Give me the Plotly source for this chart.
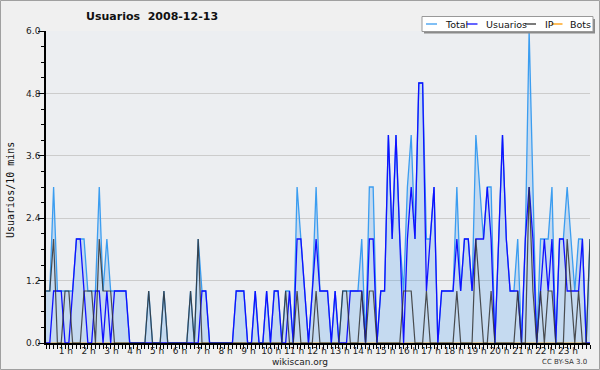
import plotly.graph_objects as go

# 10-minute slots, 0:00 .. 23:50
slots = list(range(144))
hour_labels = [f"{h} h" for h in range(1, 24)]
y_ticks = [0.0, 1.2, 2.4, 3.6, 4.8, 6.0]

total = [1,1,3,1,1,1,1,1,2,2,2,1,1,1,3,1,2,1,1,1,1,1,0,0,0,0,0,1,0,0,
         0,1,0,0,0,0,0,0,1,0,2,1,1,0,0,0,0,0,0,0,1,1,1,0,0,1,0,0,1,0,
         1,1,0,1,1,0,3,2,1,0,1,3,1,1,1,0,1,0,1,1,1,1,1,2,0,3,3,0,1,1,
         4,2,4,2,1,3,4,2,5,5,2,2,3,0,1,1,1,1,3,1,2,2,1,4,3,2,3,3,0,2,
         4,2,1,1,2,0,2,6,3,0,2,2,2,3,0,2,2,3,2,1,2,2,0,2]
usuarios = [0,0,1,1,1,0,0,1,2,2,1,0,0,1,1,0,1,0,1,1,1,1,0,0,0,0,0,0,0,0,
            0,0,0,0,0,0,0,0,0,0,0,1,1,0,0,0,0,0,0,0,1,1,1,0,0,1,0,0,1,0,
            1,1,0,0,1,0,2,2,1,0,1,2,1,1,1,0,1,0,0,0,1,1,1,1,0,2,2,0,1,1,
            4,2,4,2,0,2,3,2,5,5,1,2,3,0,1,1,1,1,2,1,2,2,1,2,2,2,3,2,0,2,
            4,2,1,1,1,0,2,3,2,0,1,2,1,2,0,2,2,1,1,1,1,2,0,0]
ip = [1,1,2,0,0,1,1,0,0,0,1,1,1,0,2,1,1,1,0,0,0,0,0,0,0,0,0,1,0,0,
      0,1,0,0,0,0,0,0,1,0,2,0,0,0,0,0,0,0,0,0,0,0,0,0,0,0,0,0,0,0,
      0,0,0,1,0,0,1,0,0,0,0,1,0,0,0,0,0,0,1,1,0,0,0,1,0,1,1,0,0,0,
      0,0,0,0,1,1,1,0,0,0,1,0,0,0,0,0,0,0,1,0,0,0,0,2,1,0,0,1,0,0,
      0,0,0,0,1,0,0,3,1,0,1,0,1,1,0,0,0,2,1,0,1,0,0,2]
bots = [0] * 144

C_TOTAL = "#3b9df0"
C_USU = "#1010ff"
C_IP = "#333333"
C_BOTS = "#ff9900"

fig = go.Figure()
fig.add_trace(go.Scatter(x=slots, y=bots, mode="lines", name="Bots",
                         line=dict(color=C_BOTS, width=1.2)))
fig.add_trace(go.Scatter(x=slots, y=total, mode="lines", name="Total",
                         line=dict(color=C_TOTAL, width=1.3),
                         fill="tozeroy", fillcolor="rgba(60,150,235,0.22)"))
fig.add_trace(go.Scatter(x=slots, y=usuarios, mode="lines", name="Usuarios",
                         line=dict(color=C_USU, width=1.3)))
fig.add_trace(go.Scatter(x=slots, y=ip, mode="lines", name="IP",
                         line=dict(color=C_IP, width=1.2), opacity=0.85))

L, R, T, B = 46, 10, 31, 27
W, H = 600, 370
PW, PH = W - L - R, H - T - B


def px(x):
    return (x - L) / PW


def py(y):
    return (H - B - y) / PH


fig.update_layout(
    width=W, height=H,
    margin=dict(l=L, r=R, t=T, b=B),
    paper_bgcolor="#f0f0f0",
    plot_bgcolor="#eceef1",
    showlegend=False,
    font=dict(family="DejaVu Sans", size=9, color="#222222"),
)
fig.update_xaxes(
    range=[0, 143], tickvals=[6 * h for h in range(1, 24)], ticktext=hour_labels,
    ticks="outside", ticklen=4, tickcolor="black", tickwidth=1,
    showline=True, linecolor="black", linewidth=1.5,
    showgrid=False, zeroline=False,
    minor=dict(dtick=1, tick0=0, ticks="outside", ticklen=4, tickcolor="black", showgrid=False),
    tickfont=dict(size=9, family="DejaVu Sans", color="#222222"),
    ticklabelstandoff=-6, ticklabelshift=-3,
)
fig.update_yaxes(
    range=[0, 6], tickvals=y_ticks, ticktext=[f"{v:.1f}" for v in y_ticks],
    ticks="outside", ticklen=6, tickcolor="black",
    showline=True, linecolor="black", linewidth=1.5,
    showgrid=True, gridcolor="#cccccc", gridwidth=1, zeroline=False,
    minor=dict(dtick=0.3, tick0=0, ticks="outside", ticklen=3, tickcolor="black", showgrid=False),
    tickfont=dict(size=9, family="DejaVu Sans", color="#222222"),
    ticklabelstandoff=-4,
)

ann = []
ann.append(dict(text="<b>Usuarios\u00a0\u00a02008-12-13</b>", x=px(84), y=py(17), xref="paper", yref="paper",
                xanchor="left", yanchor="middle", showarrow=False,
                font=dict(size=11, family="DejaVu Sans", color="#111111")))
ann.append(dict(text="Usuarios/10 mins", x=px(10), y=py(190), xref="paper", yref="paper",
                xanchor="center", yanchor="middle", textangle=-90, showarrow=False,
                font=dict(size=10, family="DejaVu Sans Mono", color="#111111")))
ann.append(dict(text="wikiscan.org", x=px(300), y=py(362), xref="paper", yref="paper",
                xanchor="center", yanchor="middle", showarrow=False,
                font=dict(size=9, family="DejaVu Sans", color="#222222")))
ann.append(dict(text="CC BY-SA 3.0", x=px(589), y=py(362), xref="paper", yref="paper",
                xanchor="right", yanchor="middle", showarrow=False,
                font=dict(size=7, family="DejaVu Sans", color="#333333")))

shapes = []
# outer border
shapes.append(dict(type="rect", xref="paper", yref="paper",
                   x0=px(0.5), x1=px(599.5), y0=py(369.5), y1=py(0.5),
                   line=dict(color="#a0a0a0", width=1), fillcolor="rgba(0,0,0,0)", layer="above"))
# legend box with shadow
shapes.append(dict(type="rect", xref="paper", yref="paper",
                   x0=px(424), x1=px(595), y0=py(33.5), y1=py(19),
                   line=dict(width=0), fillcolor="#8a8a8a", layer="above"))
shapes.append(dict(type="rect", xref="paper", yref="paper",
                   x0=px(422), x1=px(593), y0=py(31.5), y1=py(16.5),
                   line=dict(color="#999999", width=1), fillcolor="#ffffff", layer="above"))
legend_items = [("Total", C_TOTAL, 426, 442.5), ("Usuarios", C_USU, 466.5, 484),
                ("IP", C_IP, 525, 542.5), ("Bots", C_BOTS, 551.5, 568)]
for name, col, lx, tx in legend_items:
    shapes.append(dict(type="line", xref="paper", yref="paper",
                       x0=px(lx), x1=px(lx + 11), y0=py(24), y1=py(24),
                       line=dict(color=col, width=1.3), layer="above"))
    ann.append(dict(text=name, x=px(tx), y=py(24.3), xref="paper", yref="paper",
                    xanchor="left", yanchor="middle", showarrow=False,
                    font=dict(size=9.5, family="DejaVu Sans", color="#111111")))

fig.update_layout(annotations=ann, shapes=shapes)
fig.write_html("out.html", config={"displayModeBar": False},
               post_script="document.body.style.margin='0';document.body.style.overflow='hidden';")
